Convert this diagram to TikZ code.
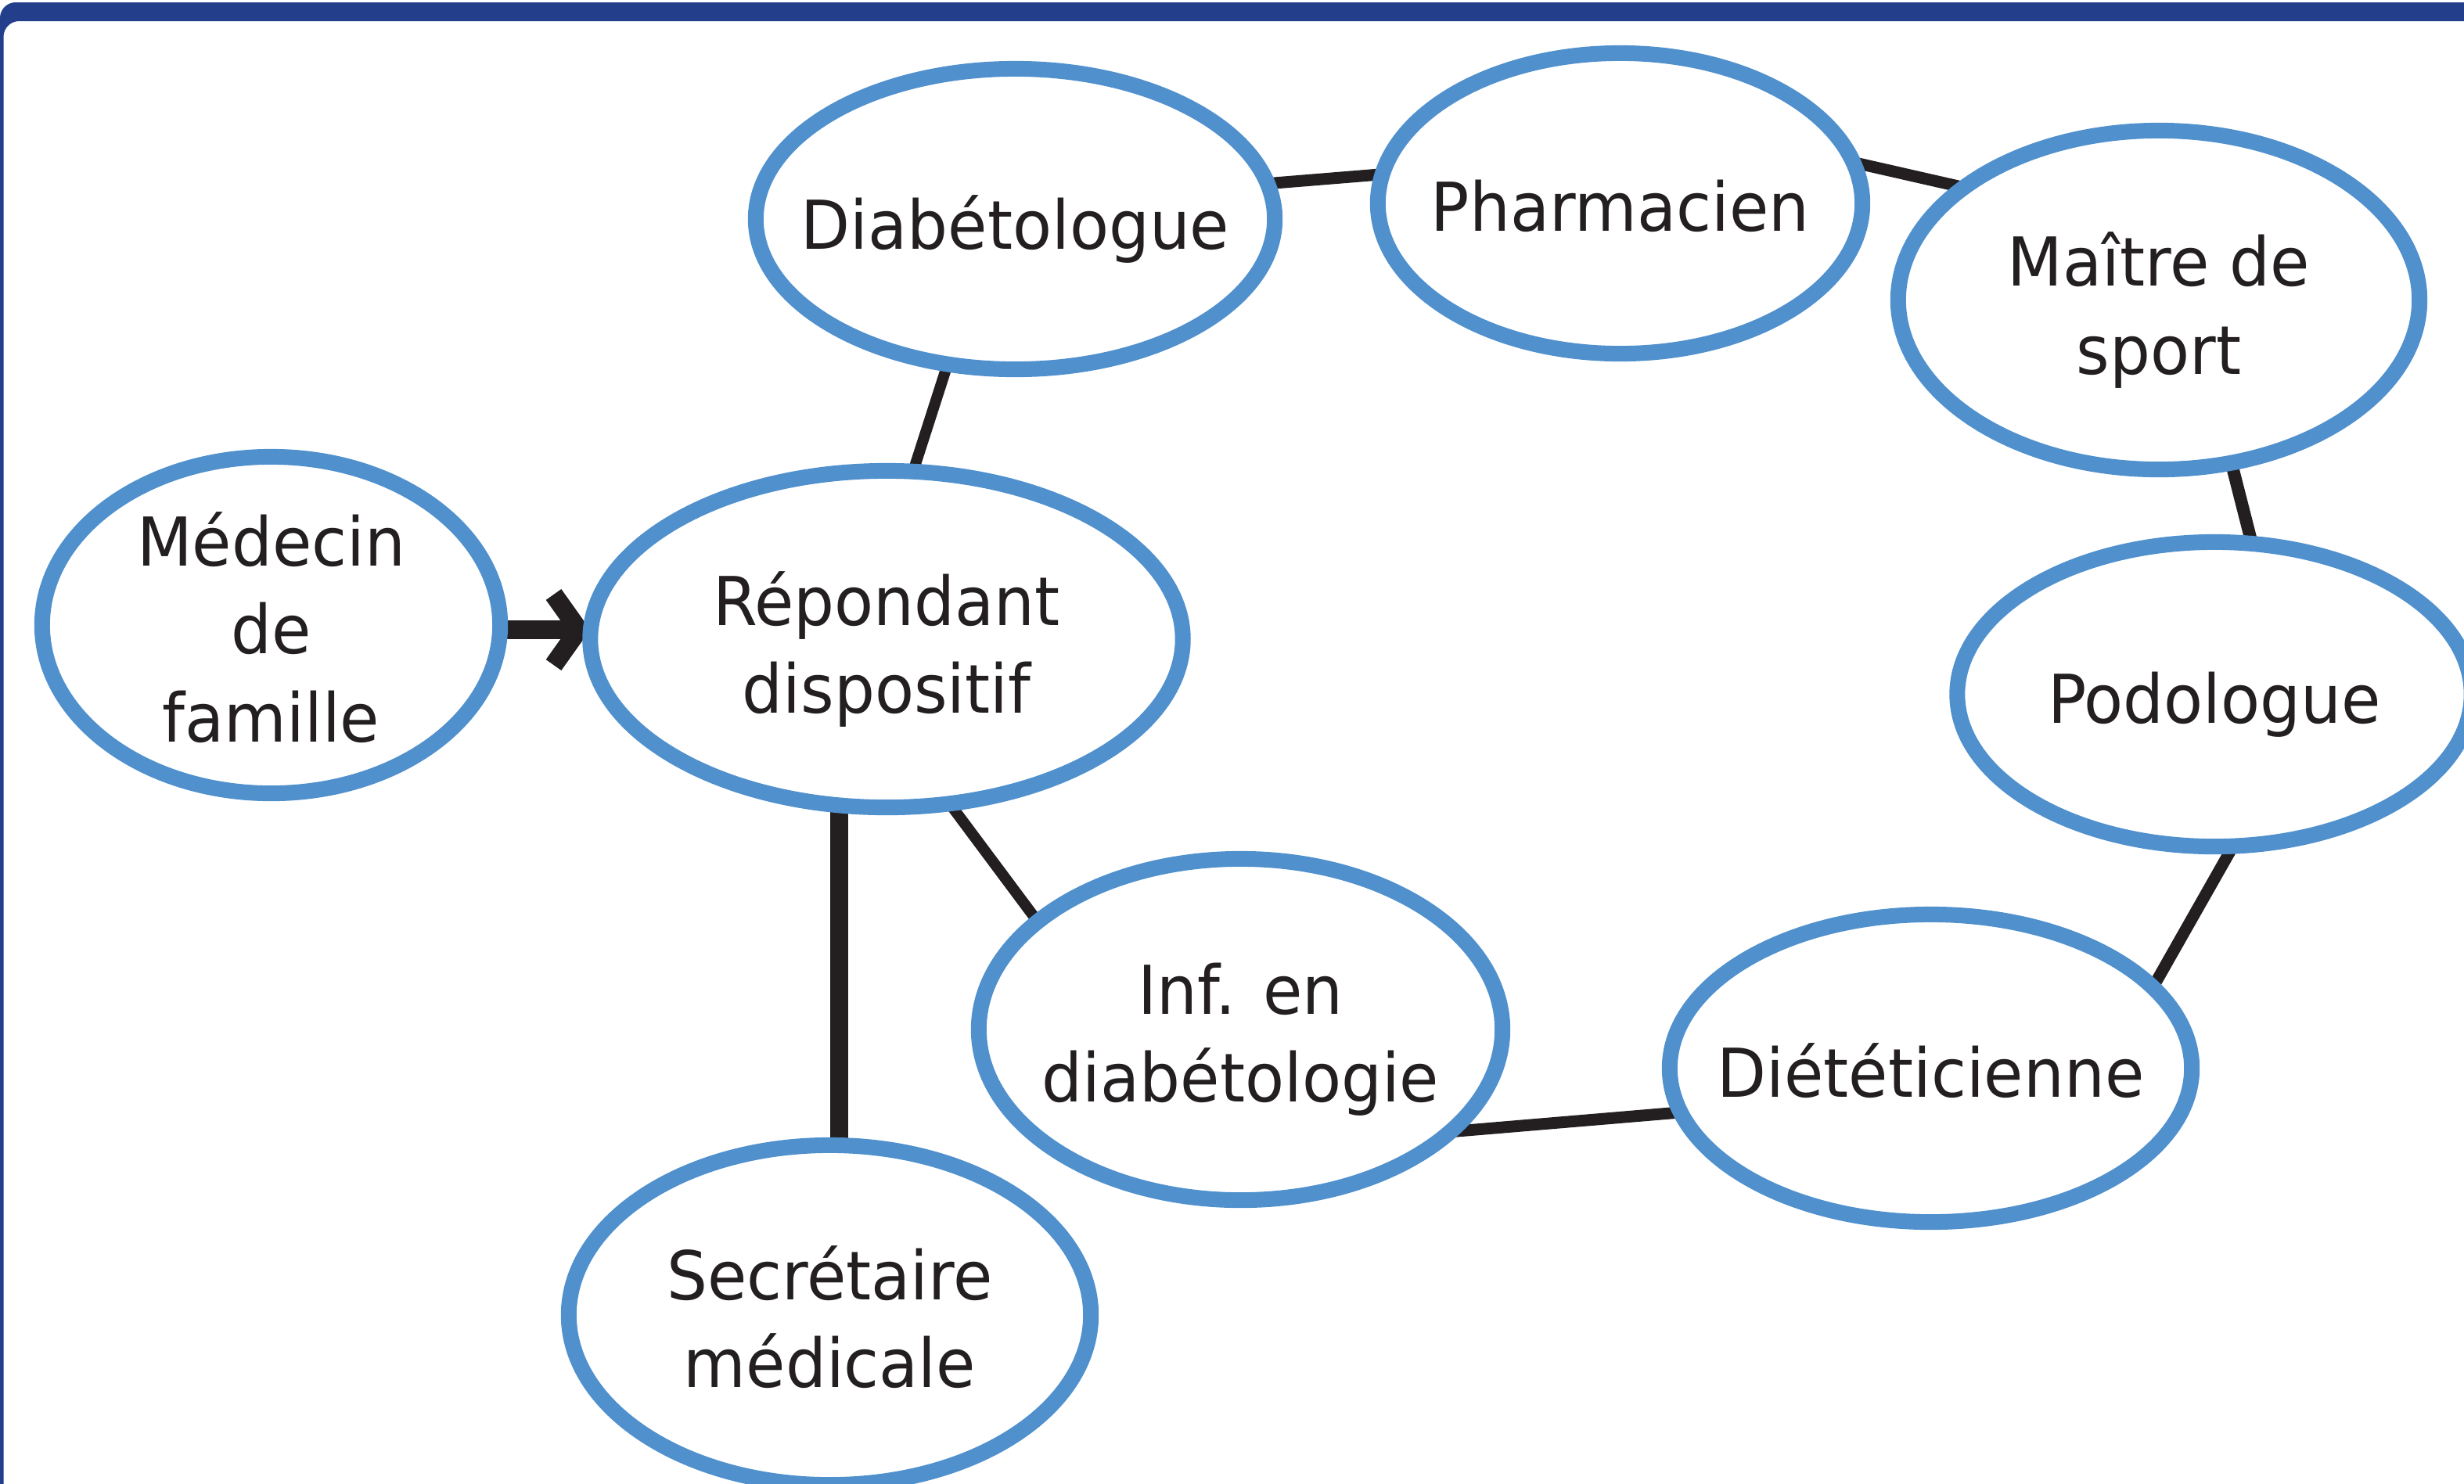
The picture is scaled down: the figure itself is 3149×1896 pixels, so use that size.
\documentclass[tikz,border=0pt]{standalone}
\usepackage{fontspec}
\setmainfont{DejaVu Sans}[FakeStretch=0.95]
\usetikzlibrary{shapes.geometric,arrows.meta}
\definecolor{framecol}{RGB}{35,63,140}
\definecolor{bubcol}{RGB}{79,144,205}
\definecolor{linecol}{RGB}{35,31,32}
\pgfdeclarelayer{bg}
\pgfsetlayers{bg,main}
\begin{document}
\begin{tikzpicture}[x=0.01cm,y=-0.01cm,
  bub/.style={ellipse,draw=bubcol,line width=0.2cm,fill=white,inner sep=0pt,outer sep=0pt},
  lbl/.style={align=center,font=\fontsize{24.5pt}{31.9pt}\selectfont,text=linecol,inner sep=0pt,yshift=-0.03cm},
  lbldesc/.style={lbl,yshift=-0.1cm},
  link/.style={draw=linecol,line width=0.15cm},
  ]
\useasboundingbox (0,0) rectangle (3149,1896);
\fill[framecol,rounded corners=0.2cm] (0,2000) -- (0,3) -- (3300,3) -- (3300,27) -- (4.5,27) -- (4.5,2000) -- cycle;

\node[bub,minimum width=5.85cm,minimum height=4.30cm] (m) at (346.5,799) {};
\node[bub,minimum width=7.57cm,minimum height=4.30cm] (r) at (1133,817) {};
\node[bub,minimum width=6.63cm,minimum height=3.84cm] (d) at (1297.5,280) {};
\node[bub,minimum width=6.19cm,minimum height=3.84cm] (p) at (2070.5,260) {};
\node[bub,minimum width=6.66cm,minimum height=4.33cm] (ms) at (2759,383.5) {};
\node[bub,minimum width=6.57cm,minimum height=3.89cm] (po) at (2830,887.5) {};
\node[bub,minimum width=6.69cm,minimum height=4.36cm] (inf) at (1585.5,1316) {};
\node[bub,minimum width=6.67cm,minimum height=3.93cm] (dt) at (2467.5,1365.5) {};
\node[bub,minimum width=6.67cm,minimum height=4.34cm] (s) at (1060.5,1681) {};

\node[lbl] (m-t) at (m) {Médecin\\de\\famille};
\node[lbldesc] (r-t) at (r) {Répondant\\dispositif};
\node[lbldesc] (d-t) at (d) {Diabétologue};
\node[lbl] (p-t) at (p) {Pharmacien};
\node[lbldesc] (ms-t) at (ms) {Maître de\\sport};
\node[lbldesc] (po-t) at (po) {Podologue};
\node[lbldesc] (inf-t) at (inf) {Inf. en\\diabétologie};
\node[lbl] (dt-t) at (dt) {Diététicienne};
\node[lbl] (s-t) at (s) {Secrétaire\\médicale};

\begin{pgfonlayer}{bg}
\draw[link,line width=0.14cm] (d.245) -- (r.81);
\draw[link] (d.8) -- (p.173);
\draw[link] (p.10) -- (ms.150);
\draw[link,line width=0.16cm] (ms.294) -- (po.76);
\draw[link] (po.277) -- (dt.20);
\draw[link] (dt.190) -- (inf.334.5);
\draw[link,line width=0.14cm] (inf.152) -- (r.291);
\draw[link,line width=0.23cm] (r.254) -- (r.254 |- s.north);
\draw[draw=linecol,line width=0.24cm,-{Straight Barb[sharp,length=0.32cm,width=0.9cm]}] ([yshift=-0.06cm]m.east) -- ([yshift=-0.06cm]m.east -| r.west);
\end{pgfonlayer}
\end{tikzpicture}
\end{document}
